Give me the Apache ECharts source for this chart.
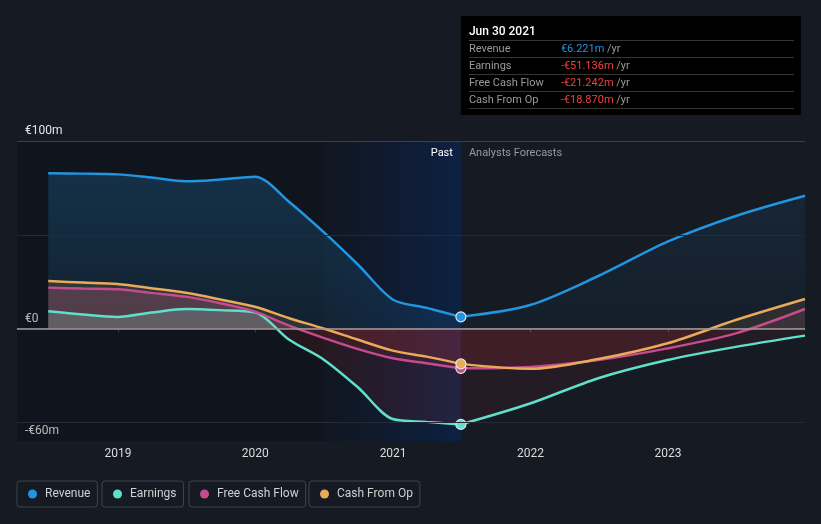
<!DOCTYPE html>
<html><head><meta charset="utf-8">
<script src="https://cdn.jsdelivr.net/npm/echarts@6/dist/echarts.min.js"></script>
<style>html,body{margin:0;padding:0;background:#151a23;}#c{width:821px;height:524px;}</style>
</head><body><div id="c"></div>
<script>
// ---- data (values in € millions) ----
const pastDates = ['2018-06-30','2018-09-30','2018-12-31','2019-03-31','2019-06-30','2019-09-30','2019-12-31','2020-03-31','2020-06-30','2020-09-30','2020-12-31','2021-03-31','2021-06-30'];
const forecastDates = ['2021-06-30','2021-12-31','2022-06-30','2022-12-31','2023-06-30','2023-12-31'];
const revenuePast = [82.8,82.6,82.2,80.5,78.5,79.5,81.0,67.5,51.5,34.0,15.5,11.0,6.221];
const revenueForecast = [6.221,12.5,28.0,46.3,60.0,70.8];
const earningsPast = [9.2,7.5,6.2,8.5,10.4,9.8,8.6,-6.0,-16.5,-31.5,-48.3,-49.8,-51.136];
const earningsForecast = [-51.136,-40.0,-26.5,-16.8,-9.8,-3.8];
const fcfPast = [21.8,21.3,20.9,19.0,17.0,13.5,9.0,1.5,-5.0,-11.0,-15.9,-18.5,-21.242];
const fcfForecast = [-21.242,-20.5,-16.8,-10.6,-2.6,10.4];
const cfoPast = [25.3,24.5,23.7,21.5,19.1,15.5,11.6,5.5,0.0,-6.0,-11.8,-15.0,-18.870];
const cfoForecast = [-18.870,-21.5,-16.3,-7.9,4.5,15.7];
const seriesNames = ['Revenue','Earnings','Free Cash Flow','Cash From Op'];
const yearTicks = ['2019-01-01','2020-01-01','2021-01-01','2022-01-01','2023-01-01'];
const yLabelValues = [100, 0, -60];
const yLabelTexts = ['€100m','€0','-€60m'];
const gridValues = [100, 50, -50];
const axisStartDate = '2018-04-08';
const axisEndDate = '2023-12-31';
const highlightStart = '2020-06-30';
const nowDate = '2021-06-30';
const monthNames = ['Jan','Feb','Mar','Apr','May','Jun','Jul','Aug','Sep','Oct','Nov','Dec'];

// ---- helpers ----
const parseT = s => { const p = s.split('-').map(Number); return new Date(p[0], p[1] - 1, p[2]).getTime(); };
const colors = ['#2394df','#5ee0cb','#c64b8c','#e9ab5a'];
function splitFill(vals, posTop, posBottom, neg) {
  const max = Math.max(0, ...vals), min = Math.min(0, ...vals);
  const f = (max - min) === 0 ? 1 : max / (max - min);
  return new echarts.graphic.LinearGradient(0, 0, 0, 1, [
    {offset: 0, color: posTop}, {offset: f, color: posBottom},
    {offset: f, color: neg}, {offset: 1, color: neg}
  ]);
}
function mk(name, color, dates, vals, fill, isForecast) {
  return {
    name, type: 'line', smooth: 0.3, symbol: 'none', showSymbol: true,
    data: dates.map((d, i) => (isForecast && i === 0)
      ? {value: [parseT(d), vals[i]], symbol: 'circle', symbolSize: 10,
         itemStyle: {color, borderColor: '#e6e6e6', borderWidth: 1.2}}
      : [parseT(d), vals[i]]),
    lineStyle: {color, width: 2.5},
    itemStyle: {color},
    areaStyle: {color: fill},
    silent: true, animation: false
  };
}
const negPast = 'rgba(230,50,50,0.14)';
const negFc = 'rgba(230,50,50,0.10)';
const revPastS = mk(seriesNames[0], colors[0], pastDates, revenuePast,
  splitFill(revenuePast, 'rgba(35,148,223,0.32)', 'rgba(35,148,223,0.14)', negPast), false);
revPastS.markArea = {
  silent: true,
  data: [
    [{xAxis: parseT(axisStartDate), itemStyle: {color: 'rgba(0,0,0,0.2)'}}, {xAxis: parseT(highlightStart)}],
    [{xAxis: parseT(highlightStart), itemStyle: {color: new echarts.graphic.LinearGradient(0, 0, 1, 0, [
      {offset: 0, color: 'rgba(10,18,30,0.4)'}, {offset: 1, color: 'rgba(8,38,90,0.6)'}])}},
     {xAxis: parseT(nowDate)}]
  ]
};
revPastS.markLine = {
  silent: true, symbol: ['none','none'], label: {show: false},
  lineStyle: {color: '#262b33', width: 1, type: 'solid'},
  data: gridValues.map((v, i) => ({yAxis: v, lineStyle: {color: i === 0 ? '#3b4048' : '#262b33', width: 1, type: 'solid'}}))
    .concat([{yAxis: 0, lineStyle: {color: '#9b9b9b', width: 1.5, type: 'solid'}}])
};

const series = [
  revPastS,
  mk(seriesNames[0], colors[0], forecastDates, revenueForecast,
     splitFill(revenueForecast, 'rgba(35,148,223,0.14)', 'rgba(35,148,223,0.05)', negFc), true),
  mk(seriesNames[1], colors[1], pastDates, earningsPast,
     splitFill(earningsPast, 'rgba(94,224,203,0.38)', 'rgba(94,224,203,0.38)', negPast), false),
  mk(seriesNames[1], colors[1], forecastDates, earningsForecast,
     splitFill(earningsForecast, 'rgba(94,224,203,0.15)', 'rgba(94,224,203,0.15)', negFc), true),
  mk(seriesNames[2], colors[2], pastDates, fcfPast,
     splitFill(fcfPast, 'rgba(198,75,140,0.32)', 'rgba(198,75,140,0.32)', negPast), false),
  mk(seriesNames[2], colors[2], forecastDates, fcfForecast,
     splitFill(fcfForecast, 'rgba(198,75,140,0.15)', 'rgba(198,75,140,0.15)', negFc), true),
  mk(seriesNames[3], colors[3], pastDates, cfoPast,
     splitFill(cfoPast, 'rgba(233,171,90,0.19)', 'rgba(233,171,90,0.19)', negPast), false),
  mk(seriesNames[3], colors[3], forecastDates, cfoForecast,
     splitFill(cfoForecast, 'rgba(233,171,90,0.15)', 'rgba(233,171,90,0.15)', negFc), true)
];

const legendLefts = [17, 102, 189, 309];
const option = {
  backgroundColor: '#151a23',
  animation: false,
  textStyle: {fontFamily: 'Roboto'},
  grid: {left: 17, right: 16, top: 141, bottom: 83, containLabel: false},
  xAxis: {
    type: 'value', min: parseT(axisStartDate), max: parseT(axisEndDate),
    axisLine: {show: true, lineStyle: {color: '#454a53', width: 1}},
    axisTick: {show: true, length: 4, lineStyle: {color: '#454a53'}, customValues: yearTicks.map(parseT)},
    axisLabel: {color: '#dcdcdc', fontSize: 12, margin: 7, customValues: yearTicks.map(parseT),
      formatter: v => String(new Date(v).getFullYear())},
    splitLine: {show: false}
  },
  yAxis: {
    type: 'value', min: -60, max: 100, interval: 10,
    axisLine: {show: false}, axisTick: {show: false}, splitLine: {show: false},
    axisLabel: {inside: true, margin: 8, color: '#e6e6e6', fontSize: 12, verticalAlign: 'bottom',
      padding: [0, 0, 4, 0], showMinLabel: true, showMaxLabel: true,
      formatter: v => { const i = yLabelValues.indexOf(v); return i >= 0 ? yLabelTexts[i] : ''; }}
  },
  legend: seriesNames.map((n, i) => ({
    data: [n], left: legendLefts[i], top: 481, icon: 'circle', itemWidth: 9, itemHeight: 9,
    padding: [7, 7, 7, 11], borderColor: '#3f444d', borderWidth: 1, borderRadius: 3,
    selectedMode: false, itemStyle: {borderWidth: 0},
    textStyle: {color: '#d0d0d0', fontSize: 12, fontFamily: 'Roboto', padding: [0, 0, 0, 3]}
  })),
  series
};

const chart = echarts.init(document.getElementById('c'), null, {renderer: 'canvas'});
chart.setOption(option);

// ---- annotations positioned from the axis scale ----
const nowPt = chart.convertToPixel({gridIndex: 0}, [parseT(nowDate), 100]);
const xNow = nowPt[0], yTop = nowPt[1];
const fmt = v => (v < 0 ? '-€' : '€') + Math.abs(v).toFixed(3) + 'm';
const lastVals = [revenuePast, earningsPast, fcfPast, cfoPast].map(a => a[a.length - 1]);
const nd = new Date(parseT(nowDate));
const title = monthNames[nd.getMonth()] + ' ' + nd.getDate() + ' ' + nd.getFullYear();
const children = [
  {type: 'rect', shape: {x: 0, y: 0, width: 340, height: 99}, style: {fill: '#000'}},
  {type: 'text', x: 8, y: 16, style: {text: title, fill: '#ffffff', font: '500 12px Roboto', verticalAlign: 'middle'}}
];
for (let i = 0; i < 5; i++) {
  children.push({type: 'line', shape: {x1: 8, y1: 24.5 + i * 17, x2: 333, y2: 24.5 + i * 17}, style: {stroke: '#363636', lineWidth: 1}});
}
seriesNames.forEach((n, i) => {
  const y = 33.5 + i * 17;
  children.push({type: 'text', x: 8, y, style: {text: n, fill: '#9a9a9a', font: '11px Roboto', verticalAlign: 'middle'}});
  children.push({type: 'text', x: 100, y, style: {
    text: '{v|' + fmt(lastVals[i]) + '}{u| /yr}', verticalAlign: 'middle',
    rich: {v: {fill: lastVals[i] < 0 ? '#f2413c' : '#2394df', font: '11px Roboto'},
           u: {fill: '#9a9a9a', font: '11px Roboto'}}}});
});
chart.setOption({
  graphic: [
    {type: 'group', x: xNow, y: 16, silent: true, z: 100, children},
    {type: 'text', x: xNow - 8, y: yTop + 12, silent: true, z: 100,
     style: {text: 'Past', fill: '#ffffff', font: '11px Roboto', align: 'right', verticalAlign: 'middle'}},
    {type: 'text', x: xNow + 8, y: yTop + 12, silent: true, z: 100,
     style: {text: 'Analysts Forecasts', fill: '#9a9a9a', font: '11px Roboto', align: 'left', verticalAlign: 'middle'}}
  ]
});
</script></body></html>
